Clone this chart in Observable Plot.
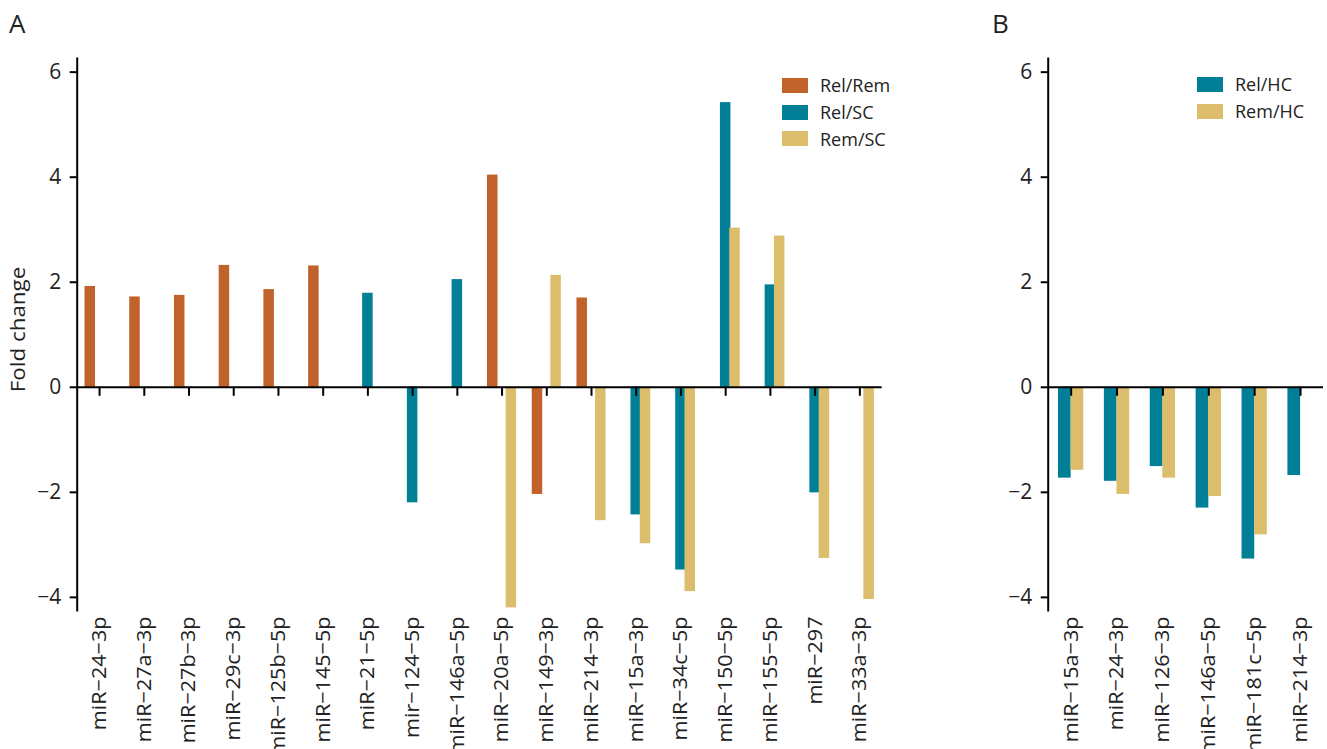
<!DOCTYPE html>
<html><head><meta charset="utf-8">
<script src="https://cdn.jsdelivr.net/npm/d3@7"></script>
<script src="https://cdn.jsdelivr.net/npm/@observablehq/plot@0.6"></script>
<style>
body{margin:0;background:#fff;font-family:"Open Sans",sans-serif;color:#222;}
#wrap{position:relative;width:1327px;height:749px;overflow:hidden;background:#fff;}
.panel{position:absolute;top:0;}
.lab{position:absolute;font-size:26px;line-height:1;}
.legend{position:absolute;font-size:18px;line-height:1;}
.legend .row{display:flex;align-items:center;height:26.7px;}
.sw{width:26px;height:15px;margin-right:12px;}
</style></head><body>
<div id="wrap">
  <div class="lab" style="left:9px;top:10px;">A</div>
  <div class="lab" style="left:992px;top:10px;">B</div>
  <div id="pa" class="panel" style="left:0;"></div>
  <div id="pb" class="panel" style="left:960px;"></div>
  <div id="lega" class="legend" style="left:782px;top:72px;"></div>
  <div id="legb" class="legend" style="left:1197px;top:71px;"></div>
</div>
<script>
// ---- Panel A data ----
const mirsA = ["miR−24−3p","miR−27a−3p","miR−27b−3p","miR−29c−3p","miR−125b−5p","miR−145−5p","miR−21−5p","mir−124−5p","miR−146a−5p","miR−20a−5p","miR−149−3p","miR−214−3p","miR−15a−3p","miR−34c−5p","miR−150−5p","miR−155−5p","miR−297","miR−33a−3p"];
const seriesA = ["Rel/Rem","Rel/SC","Rem/SC"];
const colorsA = ["#C0622A","#007F96","#DBBD6B"];
const relRem = [1.92,1.72,1.75,2.32,1.86,2.31,null,null,null,4.04,-2.04,1.70,null,null,null,null,null,null];
const relSC  = [null,null,null,null,null,null,1.79,-2.20,2.05,null,null,null,-2.43,-3.48,5.42,1.95,-2.01,null];
const remSC  = [null,null,null,null,null,null,null,null,null,-4.20,2.13,-2.54,-2.98,-3.89,3.03,2.88,-3.26,-4.04];

// ---- Panel B data ----
const mirsB = ["miR−15a−3p","miR−24−3p","miR−126−3p","miR−146a−5p","miR−181c−5p","miR−214−3p"];
const seriesB = ["Rel/HC","Rem/HC"];
const colorsB = ["#007F96","#DBBD6B"];
const relHC = [-1.73,-1.79,-1.51,-2.30,-3.27,-1.68];
const remHC = [-1.58,-2.04,-1.73,-2.08,-2.81,null];

const yTicks = [-4,-2,0,2,4,6];
const yDomain = [-4.25, 6.26];

function tidy(mirs, series, arrays){
  const rows = [];
  series.forEach((s,k)=>arrays[k].forEach((v,i)=>{ if(v!==null) rows.push({mir:mirs[i], series:s, value:v}); }));
  return rows;
}

function panel({mirs, series, colors, arrays, offsets, barW, width, marginLeft, marginRight, showLabel}){
  const rows = tidy(mirs, series, arrays);
  const step = (width - marginLeft - marginRight)/mirs.length;
  const inset = (step - barW)/2;
  const marks = [];
  series.forEach((s,k)=>{
    marks.push(Plot.barY(rows.filter(d=>d.series===s), {x:"mir", y1:0, y2:"value", fill:"series", dx:offsets[k], insetLeft:inset, insetRight:inset}));
  });
  marks.push(Plot.ruleY([0], {stroke:"#000", strokeWidth:2}));
  marks.push(Plot.frame({anchor:"left", stroke:"#000", strokeWidth:2}));
  marks.push(Plot.ruleX(mirs, {x:d=>d, y1:0, y2:0, insetBottom:-9, stroke:"#000", strokeWidth:2}));
  marks.push(Plot.axisY({ticks:yTicks, tickFormat:d3.format("d"), tickSize:7, tickPadding:9, label:null, stroke:"#000", strokeWidth:2, fill:"#222", fontSize:21}));
  marks.push(Plot.axisX({tickSize:0, tickRotate:-90, tickPadding:6, label:null, fill:"#222", fontSize:20}));
  if(showLabel) marks.push(Plot.text(["Fold change"], {frameAnchor:"left", textAnchor:"middle", rotate:-90, dx:-59, dy:-5, fill:"#222", fontSize:20}));
  const svg = Plot.plot({
    width, height:749, marginTop:58, marginBottom:139, marginLeft, marginRight,
    style:{fontFamily:"Open Sans", fontSize:"20px", color:"#222", background:"transparent", overflow:"visible"},
    x:{domain:mirs, padding:0, round:false},
    y:{domain:yDomain},
    color:{domain:series, range:colors},
    marks
  });
  // the reference's rotated labels are slightly elongated along their reading direction
  svg.querySelectorAll('g[aria-label="x-axis tick label"] text').forEach(t=>{
    t.setAttribute("transform", (t.getAttribute("transform")||"") + " scale(1.08,1)");
  });
  svg.querySelectorAll('g[aria-label="text"] text').forEach(t=>{
    t.setAttribute("transform", (t.getAttribute("transform")||"") + " scale(1.12,1)");
  });
  return svg;
}

document.getElementById("pa").append(panel({
  mirs:mirsA, series:seriesA, colors:colorsA, arrays:[relRem, relSC, remSC],
  offsets:[-9.3,0,9.3], barW:10.5, width:960, marginLeft:76.7, marginRight:78.3, showLabel:true
}));
document.getElementById("pb").append(panel({
  mirs:mirsB, series:seriesB, colors:colorsB, arrays:[relHC, remHC],
  offsets:[-6.3,6.3], barW:12.7, width:367, marginLeft:87.7, marginRight:4, showLabel:false
}));

function legend(id, series, colors){
  const el = document.getElementById(id);
  series.forEach((s,k)=>{
    const r = document.createElement("div"); r.className="row";
    const sw = document.createElement("div"); sw.className="sw"; sw.style.background = colors[k];
    const t = document.createElement("span"); t.textContent = s;
    r.append(sw, t); el.append(r);
  });
}
legend("lega", seriesA, colorsA);
legend("legb", seriesB, colorsB);
</script>
</body></html>
